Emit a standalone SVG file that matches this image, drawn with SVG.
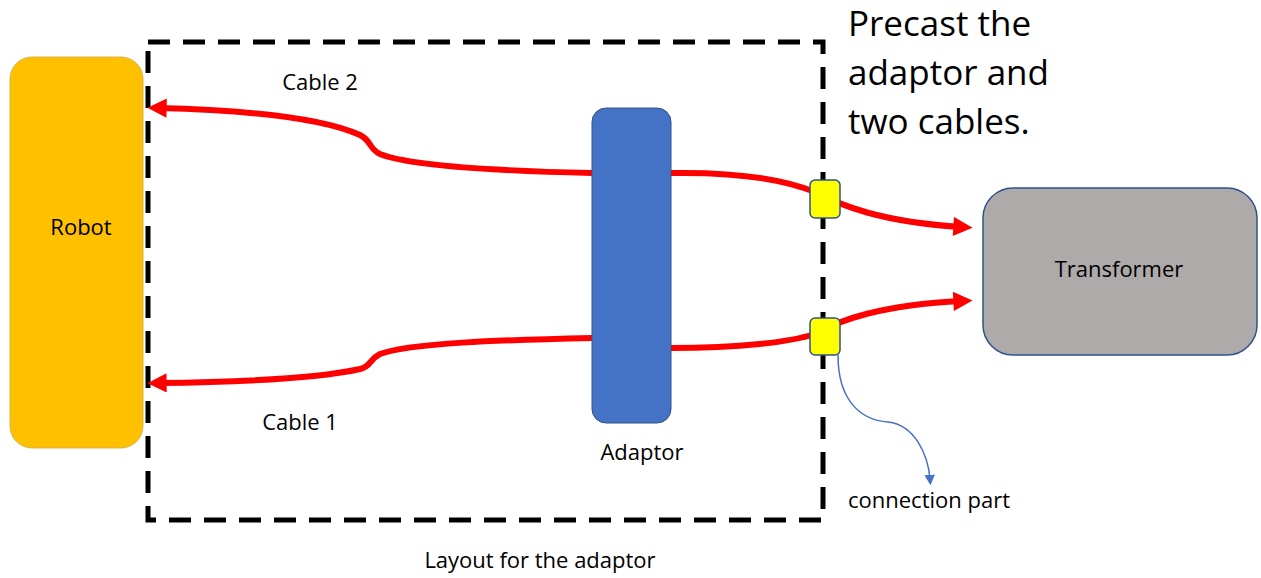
<svg xmlns="http://www.w3.org/2000/svg" width="1261" height="578" viewBox="0 0 1261 578">
<style>
text{font-family:"Open Sans","Liberation Sans",sans-serif;fill:#000}
.lbl{font-size:22px}
.big{font-size:35px}
.cable{fill:none;stroke:#FF0000;stroke-width:6}
.thin{fill:none;stroke:#4472C4;stroke-width:1.5}
</style>
<defs>
<marker id="ar" viewBox="0 0 10 10" markerWidth="3.6" markerHeight="3.2" refX="4.5" refY="5" orient="auto" markerUnits="strokeWidth">
<path d="M0,0 L10,5 L0,10 Z" fill="#FF0000"/>
</marker>
<marker id="ab" viewBox="0 0 10 10" markerWidth="7" markerHeight="7" refX="4" refY="5" orient="auto" markerUnits="strokeWidth">
<path d="M0,0 L10,5 L0,10 Z" fill="#4472C4"/>
</marker>
</defs>
<rect width="1261" height="578" fill="#fff"/>
<g id="layout-box">
<rect x="148" y="42" width="675" height="478" fill="none" stroke="#000" stroke-width="5" stroke-dasharray="22 13"/>
</g>
<g id="connectors">
<path class="cable" d="M592,173 C500,171 410,166 380,154 C368,148 372,141 360,135 C320,117 240,110 158,108" marker-end="url(#ar)"/>
<path class="cable" d="M592,338 C500,340 410,343 380,354 C368,360 372,366 360,369 C320,378 240,382 158,383" marker-end="url(#ar)"/>
<path class="cable" d="M671,173 C730,172 780,178 815,192 C840,205 880,222 962,227" marker-end="url(#ar)"/>
<path class="cable" d="M671,348 C740,348 790,342 815,334 C840,320 880,305 962,301" marker-end="url(#ar)"/>
<path class="thin" d="M838,355 C838,400 860,420 888,422 C915,425 928,455 930,479" marker-end="url(#ab)"/>
</g>
<g id="robot">
<rect x="10" y="57" width="133" height="391" rx="22" fill="#FFC000" stroke="#D8B24A" stroke-width="1"/>
<text class="lbl" x="81" y="235" text-anchor="middle">Robot</text>
</g>
<g id="adaptor">
<rect x="592" y="108" width="79" height="315" rx="14" fill="#4472C4" stroke="#2F528F" stroke-width="1"/>
<text class="lbl" x="642" y="460" text-anchor="middle">Adaptor</text>
</g>
<g id="transformer">
<rect x="983" y="188" width="274" height="167" rx="30" fill="#AEAAAA" stroke="#2F528F" stroke-width="1.5"/>
<text class="lbl" x="1119" y="277" text-anchor="middle">Transformer</text>
</g>
<g id="connector-upper">
<rect x="810" y="180" width="30" height="38" rx="5" fill="#FFFF00" stroke="#2F528F" stroke-width="1.5"/>
</g>
<g id="connector-lower">
<rect x="810" y="318" width="30" height="37" rx="5" fill="#FFFF00" stroke="#2F528F" stroke-width="1.5"/>
</g>
<g id="labels">
<text class="lbl" x="320" y="90" text-anchor="middle">Cable 2</text>
<text class="lbl" x="300" y="430" text-anchor="middle">Cable 1</text>
<text class="lbl" x="848" y="508">connection part</text>
<text class="lbl" x="540" y="568" text-anchor="middle">Layout for the adaptor</text>
<text class="big" x="848" y="36">Precast the</text>
<text class="big" x="848" y="85">adaptor and</text>
<text class="big" x="848" y="134">two cables.</text>
</g>
</svg>
